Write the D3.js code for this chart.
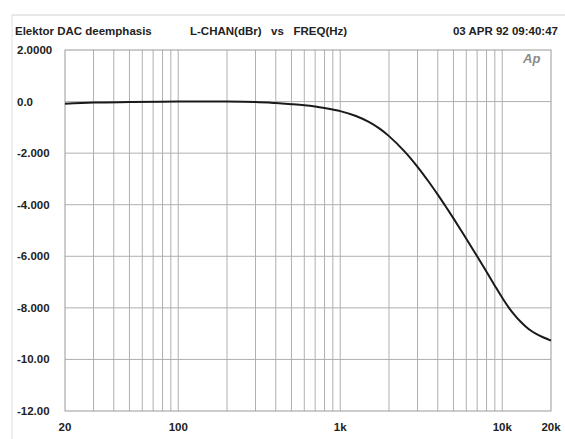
<!DOCTYPE html>
<html>
<head>
<meta charset="utf-8">
<script src="https://cdn.jsdelivr.net/npm/d3@7"></script>
<style>
  html, body { margin: 0; padding: 0; background: #fff; }
  svg { display: block; }
  text { font-family: "Liberation Sans", Arial, sans-serif; font-weight: bold; fill: #222; }
</style>
</head>
<body>
<div id="chart"></div>
<script>
// ---- data ----
const freqs = [20, 30, 50, 100, 200, 300, 400, 500, 600, 700, 800, 1000, 1250, 1500, 1750, 2000, 2500, 3000, 3500, 4000, 4500, 5000, 5500, 6000, 7000, 8000, 9000, 10000, 11000, 12000, 13000, 14000, 15000, 16000, 18000, 20000];
const levels = [-0.08, -0.04, -0.02, 0.0, 0.0, -0.02, -0.06, -0.1, -0.14, -0.19, -0.25, -0.37, -0.56, -0.79, -1.05, -1.34, -1.94, -2.53, -3.09, -3.61, -4.09, -4.53, -4.94, -5.32, -6.0, -6.6, -7.14, -7.61, -8.0, -8.3, -8.54, -8.73, -8.88, -8.99, -9.15, -9.27];
const yTicks = [2, 0, -2, -4, -6, -8, -10, -12];
const yTickLabels = ["2.0000", "0.0", "-2.000", "-4.000", "-6.000", "-8.000", "-10.00", "-12.00"];
const xTickValues = [20, 100, 1000, 10000, 20000];
const xTickLabels = ["20", "100", "1k", "10k", "20k"];
const titleLeft = "Elektor DAC deemphasis";
const titleMid = "L-CHAN(dBr)   vs   FREQ(Hz)";
const titleRight = "03 APR 92 09:40:47";

// ---- layout ----
const W = 565, H = 439;
const L = 65, R = 551, T = 50, B = 411;

const svg = d3.select("#chart").append("svg").attr("width", W).attr("height", H);

const x = d3.scaleLog().domain([20, 20000]).range([L, R]);
const y = d3.scaleLinear().domain([-12, 2]).range([B, T]);

// faint scan frame
svg.append("line").attr("x1", 12).attr("x2", W).attr("y1", 15).attr("y2", 15)
  .attr("stroke", "#d0d0d0").attr("stroke-width", 1);
svg.append("line").attr("x1", 12).attr("x2", 12).attr("y1", 15).attr("y2", H)
  .attr("stroke", "#e0e0e0").attr("stroke-width", 1);

// vertical grid (1..9 per decade)
const vGrid = [];
for (let d = 10; d <= 10000; d *= 10) {
  for (let m = 1; m <= 9; m++) {
    const f = d * m;
    if (f > 20 && f < 20000) vGrid.push(f);
  }
}
svg.append("g").selectAll("line").data(vGrid).join("line")
  .attr("x1", d => x(d)).attr("x2", d => x(d))
  .attr("y1", T).attr("y2", B)
  .attr("stroke", "#b0b0b0").attr("stroke-width", 1);

// horizontal grid
svg.append("g").selectAll("line").data(yTicks.filter(v => v > -12 && v < 2)).join("line")
  .attr("x1", L).attr("x2", R)
  .attr("y1", d => y(d)).attr("y2", d => y(d))
  .attr("stroke", "#b0b0b0").attr("stroke-width", 1);

// plot frame
svg.append("rect").attr("x", L).attr("y", T).attr("width", R - L).attr("height", B - T)
  .attr("fill", "none").attr("stroke", "#9a9a9a").attr("stroke-width", 1);

// y labels
svg.append("g").selectAll("text").data(yTicks).join("text")
  .attr("x", 17).attr("y", d => y(d) + 4)
  .attr("font-size", 11.5)
  .text((d, i) => yTickLabels[i]);

// x labels
svg.append("g").selectAll("text").data(xTickValues).join("text")
  .attr("x", d => x(d)).attr("y", 431)
  .attr("text-anchor", "middle")
  .attr("font-size", 11.5)
  .text((d, i) => xTickLabels[i]);

// titles
svg.append("text").attr("x", 15).attr("y", 35).attr("font-size", 11.5).text(titleLeft);
svg.append("text").attr("x", 190).attr("y", 35).attr("font-size", 11.5).attr("xml:space", "preserve")
  .style("white-space", "pre").text(titleMid);
svg.append("text").attr("x", 558).attr("y", 35).attr("text-anchor", "end").attr("font-size", 11.5).text(titleRight);

// Ap logo
svg.append("text").attr("x", 523).attr("y", 63)
  .attr("font-size", 13).attr("font-style", "italic").attr("font-weight", "normal")
  .style("fill", "#8a8a8a").text("Ap");

// curve
const pts = freqs.map((f, i) => [f, levels[i]]);
const line = d3.line().x(d => x(d[0])).y(d => y(d[1])).curve(d3.curveCatmullRom.alpha(0.5));
svg.append("path").datum(pts)
  .attr("d", line)
  .attr("fill", "none").attr("stroke", "#1a1a1a").attr("stroke-width", 2);
</script>
</body>
</html>
